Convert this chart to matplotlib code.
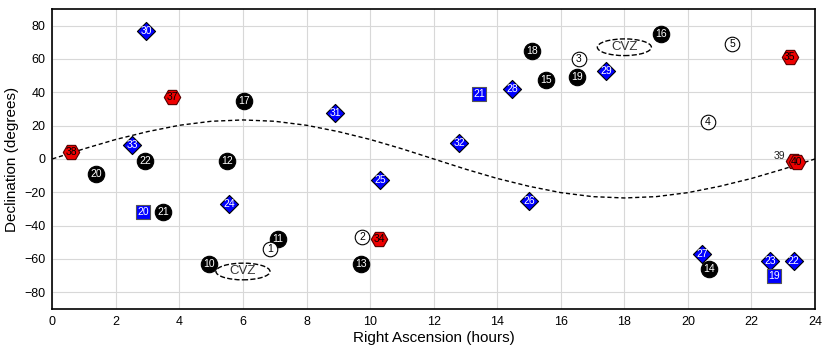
import matplotlib.pyplot as plt
from matplotlib.patches import Ellipse

plt.rcParams['font.family'] = ['Liberation Sans', 'DejaVu Sans']

# black filled circles
blk_id = ['20', '22', '12', '17', '21', '10', '11', '13', '18', '15', '19', '16', '14']
blk_ra = [1.38, 2.92, 5.5, 6.04, 3.49, 4.94, 7.1, 9.72, 15.1, 15.53, 16.5, 19.15, 20.66]
blk_dec = [-9, -1, -1, 35, -32, -63, -48, -63, 64.5, 47.6, 49.4, 74.7, -66]

# open circles
wht_id = ['1', '2', '3', '5', '4']
wht_ra = [6.86, 9.75, 16.57, 21.4, 20.63]
wht_dec = [-54, -47, 60, 69, 22]

# blue diamonds
dia_id = ['30', '33', '24', '31', '32', '25', '28', '29', '26', '27', '23', '22']
dia_ra = [2.96, 2.52, 5.57, 8.9, 12.8, 10.31, 14.47, 17.42, 15.0, 20.44, 22.58, 23.33]
dia_dec = [77, 8.4, -27, 27.7, 9.6, -12.6, 42, 53, -25, -57, -61, -61]

# blue squares
sq_id = ['20', '21', '19']
sq_ra = [2.86, 13.43, 22.7]
sq_dec = [-32, 39, -70]

# red hexagons
hex_id = ['38', '37', '34', '35', '39', '40']
hex_ra = [0.6, 3.77, 10.28, 23.2, 23.35, 23.43]
hex_dec = [4.2, 37.3, -48, 61.4, -1.5, -1.8]

# ecliptic, read every hour
ecl_ra = list(range(25))
ecl_dec = [0, 6.1, 11.7, 16.4, 20.2, 22.6, 23.4, 22.6, 20.2, 16.4, 11.7, 6.1, 0,
           -6.1, -11.7, -16.4, -20.2, -22.6, -23.4, -22.6, -20.2, -16.4, -11.7, -6.1, 0]

# continuous viewing zones
cvz_ra = [18.0, 6.0]
cvz_dec = [67, -67.5]

fig = plt.figure(figsize=(8.3, 3.56), dpi=100)
ax = fig.add_axes([0.063, 0.132, 0.919, 0.843])

ax.plot(ecl_ra, ecl_dec, color='black', linestyle='--', linewidth=1, dashes=(3, 2), zorder=2)

for x, y in zip(cvz_ra, cvz_dec):
    ax.add_patch(Ellipse((x, y), 1.7, 10, fill=False, edgecolor='black',
                         linestyle='--', linewidth=1, zorder=2))
    ax.text(x, y, 'CVZ', ha='center', va='center', fontsize=9.5, color='#333333', zorder=3)


def draw(ra, dec, ids, marker, size, face, edge, txt, lw=0.8):
    ax.scatter(ra, dec, s=size, marker=marker, facecolor=face, edgecolor=edge,
               linewidths=lw, zorder=4)
    for x, y, t in zip(ra, dec, ids):
        ax.text(x, y, t, ha='center', va='center', fontsize=7.5, color=txt, zorder=5)


draw(blk_ra, blk_dec, blk_id, 'o', 140, 'black', 'black', 'white')
draw(wht_ra, wht_dec, wht_id, 'o', 110, 'white', 'black', 'black')
draw(dia_ra, dia_dec, dia_id, 'D', 85, '#0000ff', 'black', 'white')
draw(sq_ra, sq_dec, sq_id, 's', 95, '#0000ff', '#555555', 'white')
# 39 hides behind 40, only its label shows
ax.scatter(hex_ra, hex_dec, s=140, marker='H', facecolor='#ee0000', edgecolor='#550000',
           linewidths=0.8, zorder=4)
for x, y, t in zip(hex_ra, hex_dec, hex_id):
    if t == '39':
        ax.text(x - 0.48, y + 3.5, t, ha='center', va='center', fontsize=7.5, color='#222222', zorder=5)
    else:
        ax.text(x, y, t, ha='center', va='center', fontsize=7.5, color='black', zorder=5)

ax.set_xlim(0, 24)
ax.set_ylim(-90, 90)
ax.set_xticks(range(0, 25, 2))
ax.set_yticks(range(-80, 81, 20))
ax.grid(color='#d8d8d8', linewidth=0.8)
ax.set_axisbelow(True)
ax.tick_params(length=0, labelsize=9, pad=5)
for s in ax.spines.values():
    s.set_linewidth(1.2)
ax.set_xlabel('Right Ascension (hours)', fontsize=11, labelpad=2)
ax.set_ylabel('Declination (degrees)', fontsize=11, labelpad=4)

fig.savefig('out.png', dpi=100)
